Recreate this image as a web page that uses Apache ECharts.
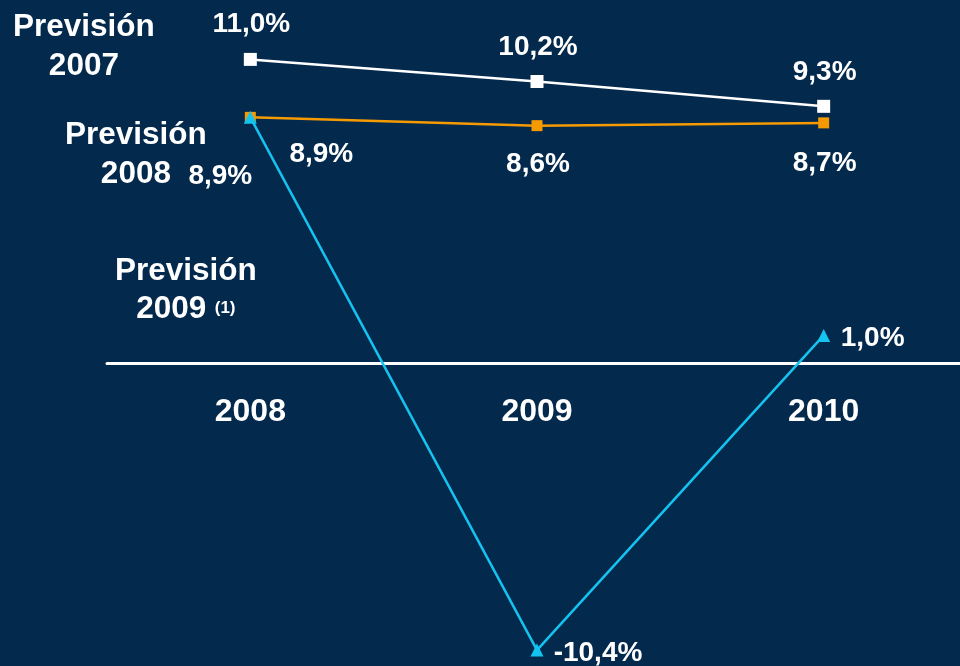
<!DOCTYPE html>
<html>
<head>
<meta charset="utf-8">
<script src="https://cdn.jsdelivr.net/npm/echarts@6/dist/echarts.min.js"></script>
<style>
html,body{margin:0;padding:0;background:#03294d;}
#c{width:960px;height:666px;}
</style>
</head>
<body>
<div id="c"></div>
<script>
const categories = ['2008', '2009', '2010'];
const prev2007 = [11.0, 10.2, 9.3];
const prev2008 = [8.9, 8.6, 8.7];
const prev2009 = [8.9, -10.4, 1.0];

const seriesNames = ['Previsión 2007', 'Previsión 2008', 'Previsión 2009 (1)'];
const labelOffsets2007 = [[1, -35], [1, -34], [1, -34]];
const labelOffsets2008 = [[71, 37], [1, 39], [1, 40]];
const labelOffsets2009 = [[-30, 59], [61, 3], [49, 3]];

const FONT = '"Liberation Sans", Arial, sans-serif';
const fmt = v => v.toFixed(1).replace('.', ',') + '%';

function withLabels(values, offsets) {
  return values.map((v, i) => ({
    value: v,
    label: { offset: offsets[i] }
  }));
}

const labelBase = {
  show: true,
  position: 'inside',
  align: 'center',
  verticalAlign: 'middle',
  color: '#ffffff',
  fontFamily: FONT,
  fontWeight: 'bold',
  fontSize: 28,
  formatter: p => fmt(p.value)
};

const chart = echarts.init(document.getElementById('c'), null, { renderer: 'canvas' });
chart.setOption({
  backgroundColor: '#03294d',
  animation: false,
  grid: { left: 107, right: -7, top: 31.8, bottom: -0.6, containLabel: false, outerBoundsMode: 'none' },
  xAxis: {
    type: 'category',
    data: categories,
    boundaryGap: true,
    offset: -303.6,
    axisLine: { show: true, onZero: false, lineStyle: { color: '#ffffff', width: 3 } },
    axisTick: { show: false },
    splitLine: { show: false },
    axisLabel: {
      color: '#ffffff',
      fontFamily: FONT,
      fontWeight: 'bold',
      fontSize: 32,
      margin: 33
    }
  },
  yAxis: {
    type: 'value',
    min: -11,
    max: 12,
    show: false,
    splitLine: { show: false }
  },
  series: [
    {
      name: seriesNames[0],
      type: 'line',
      data: withLabels(prev2007, labelOffsets2007),
      symbol: 'rect',
      symbolSize: 13,
      lineStyle: { color: '#ffffff', width: 2.5 },
      itemStyle: { color: '#ffffff' },
      label: labelBase,
      z: 3
    },
    {
      name: seriesNames[1],
      type: 'line',
      data: withLabels(prev2008, labelOffsets2008),
      symbol: 'rect',
      symbolSize: 11,
      lineStyle: { color: '#f59a00', width: 2.5 },
      itemStyle: { color: '#f59a00' },
      label: labelBase,
      z: 4
    },
    {
      name: seriesNames[2],
      type: 'line',
      data: withLabels(prev2009, labelOffsets2009),
      symbol: 'triangle',
      symbolSize: 13,
      lineStyle: { color: '#14c3f0', width: 2.5 },
      itemStyle: { color: '#14c3f0' },
      label: labelBase,
      z: 5
    }
  ],
  graphic: [
    {
      type: 'text', left: 13, top: 8, z: 10,
      style: {
        text: 'Previsión\n2007', fill: '#ffffff', font: 'bold 31.5px ' + FONT,
        textAlign: 'center', lineHeight: 39
      }
    },
    {
      type: 'text', left: 65, top: 116, z: 10,
      style: {
        text: 'Previsión\n2008', fill: '#ffffff', font: 'bold 31.5px ' + FONT,
        textAlign: 'center', lineHeight: 39
      }
    },
    {
      type: 'text', left: 115, top: 255, z: 10,
      style: {
        text: '{a|Previsión}\n{a|2009} {b|(1)}',
        fill: '#ffffff',
        textAlign: 'center',
        rich: {
          a: { fontFamily: FONT, fontWeight: 'bold', fontSize: 31.5, lineHeight: 38, fill: '#ffffff' },
          b: { fontFamily: FONT, fontWeight: 'bold', fontSize: 17, lineHeight: 38, fill: '#ffffff', padding: [0, 0, 2, 5] }
        }
      }
    }
  ]
});
</script>
</body>
</html>
